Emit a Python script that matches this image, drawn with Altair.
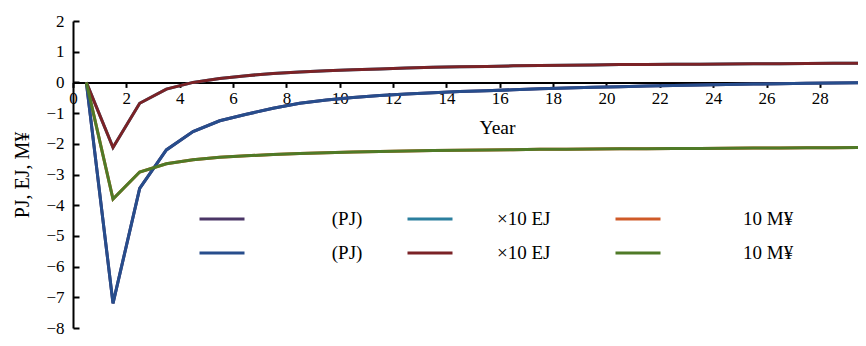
import altair as alt
import pandas as pd

# ---- data ----
years = [0.5 + i for i in range(30)]

pj_values = [0, -7.2, -3.45, -2.2, -1.6, -1.25, -1.04, -0.84, -0.68, -0.57,
             -0.49, -0.43, -0.38, -0.34, -0.30, -0.27, -0.24, -0.21, -0.18, -0.16,
             -0.14, -0.12, -0.10, -0.085, -0.07, -0.055, -0.04, -0.03, -0.02, -0.01]

ej_values = [0, -2.12, -0.68, -0.22, 0.0, 0.13, 0.22, 0.29, 0.34, 0.38,
             0.41, 0.44, 0.47, 0.49, 0.51, 0.52, 0.54, 0.55, 0.56, 0.57,
             0.58, 0.585, 0.59, 0.595, 0.60, 0.605, 0.61, 0.615, 0.62, 0.62]

my_values = [0, -3.8, -2.92, -2.65, -2.52, -2.44, -2.39, -2.35, -2.32, -2.29,
             -2.27, -2.25, -2.235, -2.22, -2.21, -2.20, -2.19, -2.18, -2.175, -2.17,
             -2.165, -2.16, -2.155, -2.15, -2.145, -2.14, -2.135, -2.13, -2.125, -2.12]

ZW = "\u200b"
NB = "\u00a0"
series_keys = ["s1", "s2", "s3", "s4", "s5", "s6"]
series_labels = [ZW + NB * 17 + "(PJ)", ZW + NB * 8 + "×10 EJ", ZW + NB * 16 + "10 M¥",
                 ZW + NB * 17 + "(PJ)", ZW + NB * 8 + "×10 EJ", ZW + NB * 16 + "10 M¥"]
series_colors = ["#4a3566", "#2b7f9e", "#cf5a28", "#274d8c", "#7b2226", "#4f7a27"]
series_data = [pj_values, ej_values, my_values, pj_values, ej_values, my_values]

x_ticks = list(range(0, 30, 2))
y_ticks = list(range(-8, 3))

rows = []
for key, vals in zip(series_keys, series_data):
    for x, v in zip(years, vals):
        rows.append({"year": x, "value": v, "series": key})
df = pd.DataFrame(rows)

label_expr = " : ".join(
    f"datum.value == '{k}' ? '{l}'" for k, l in zip(series_keys, series_labels)
) + " : ''"

W, H = 785, 307
FONT = "Liberation Serif"

legend = alt.Legend(
    orient="none", legendX=125, legendY=174, columns=3, direction="horizontal",
    title=None, symbolType="stroke", symbolSize=2025, symbolStrokeWidth=3,
    labelFont=FONT, labelFontSize=19, labelColor="black", labelOffset=5,
    labelExpr=label_expr, gridAlign="all", columnPadding=23, rowPadding=-3,
    padding=0, labelLimit=400,
)

x_enc = alt.X(
    "year:Q",
    scale=alt.Scale(domain=[0, 29.43], nice=False, zero=False),
    axis=alt.Axis(
        values=x_ticks, orient="bottom", offset=-(H * 0.8), grid=False,
        domainColor="black", domainWidth=2, tickColor="black", tickWidth=2,
        tickSize=5, labelFont=FONT, labelFontSize=17, labelColor="black",
        labelPadding=3, labelFlush=False, title="Year", titleFont=FONT,
        titleFontSize=19.5, titleFontWeight="normal", titleColor="black",
        titleX=424, titleY=45, titleBaseline="middle", titleAlign="center",
    ),
)

color_enc = alt.Color(
    "series:N",
    scale=alt.Scale(domain=series_keys, range=series_colors),
    legend=legend,
)

y_scale = alt.Scale(domain=[-8, 2], nice=False, zero=False)

hidden = alt.Chart(df).transform_filter(
    alt.FieldOneOfPredicate(field="series", oneOf=series_keys[:3])
).mark_line(strokeWidth=3, clip=True).encode(
    x=x_enc,
    y=alt.Y("value:Q", scale=y_scale, axis=alt.Axis(
        orient="right", offset=-W, values=y_ticks, labels=False, title=None,
        grid=False, domainColor="black", domainWidth=2, tickColor="black",
        tickWidth=2, tickSize=6)),
    color=color_enc,
)

visible = alt.Chart(df).transform_filter(
    alt.FieldOneOfPredicate(field="series", oneOf=series_keys[3:])
).mark_line(strokeWidth=3, clip=True).encode(
    x=x_enc,
    y=alt.Y("value:Q", scale=y_scale, axis=alt.Axis(
        orient="left", values=y_ticks, ticks=False, tickSize=0, domain=False,
        grid=False, labelFont=FONT, labelFontSize=17, labelColor="black",
        labelPadding=9, labelFlush=False, title="PJ, EJ, M¥", titleFont=FONT,
        titleFontSize=20, titleFontWeight="normal", titleColor="black",
        titleX=-51, titleY=H / 2, titleBaseline="middle", titleAlign="center",
        titleAngle=270)),
    color=color_enc,
)

chart = alt.layer(hidden, visible).resolve_axis(y="independent").properties(
    width=W, height=H,
    autosize=alt.AutoSizeParams(type="none"),
    padding={"left": 65, "top": 13, "right": 0, "bottom": 6},
    background="white",
).configure_view(stroke=None)

chart.save("out.html", embed_options={"renderer": "svg", "actions": False})
